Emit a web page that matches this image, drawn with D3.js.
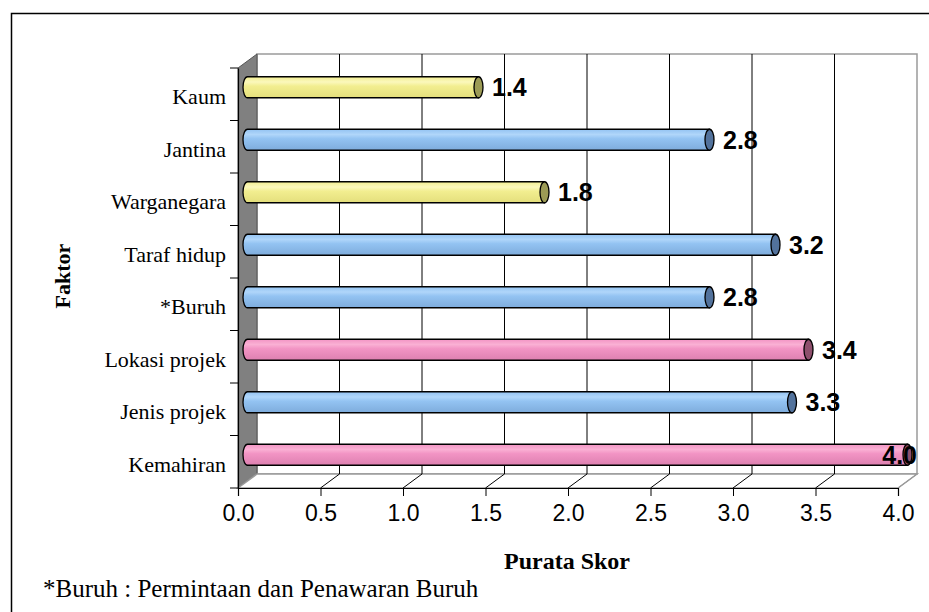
<!DOCTYPE html>
<html><head><meta charset="utf-8">
<script src="https://cdn.jsdelivr.net/npm/d3@7"></script>
<style>body{margin:0;background:#fff}svg{display:block}</style>
</head><body>
<svg id="c" width="929" height="612"></svg>
<script>
// Data (bottom to top, as in the chart's category order)
const categories = ["Kemahiran","Jenis projek","Lokasi projek","*Buruh","Taraf hidup","Warganegara","Jantina","Kaum"];
const scores = [4.0, 3.3, 3.4, 2.8, 3.2, 1.8, 2.8, 1.4];
const colourGroup = [2, 1, 2, 1, 1, 0, 1, 0];
const xTicks = [0, 0.5, 1, 1.5, 2, 2.5, 3, 3.5, 4];
const xTitle = "Purata Skor";
const yTitle = "Faktor";
const footnote = "*Buruh : Permintaan dan Penawaran Buruh";

const svg = d3.select("#c");
const L = 238, R = 898, T = 68, B = 488;
const DX = 19, DY = -14;
const serif = "'Times New Roman', 'Liberation Serif', serif";
const sans = "Arial, 'Liberation Sans', sans-serif";

const x = d3.scaleLinear().domain([0, 4]).range([L, R]);
const y = d3.scaleBand().domain(categories.slice().reverse()).range([T, B]);

const palette = [
  {top:"#fbf8bc", mid:"#f2ee90", bot:"#e4df7c", cap:"#9c9b55"},
  {top:"#b0d6fa", mid:"#93c3f2", bot:"#7eacdc", cap:"#52729c"},
  {top:"#fab0d4", mid:"#f294c4", bot:"#dd80b0", cap:"#8e4f6c"}
];
const defs = svg.append("defs");
palette.forEach((p, i) => {
  const g = defs.append("linearGradient").attr("id", "g" + i)
    .attr("x1", 0).attr("y1", 0).attr("x2", 0).attr("y2", 1);
  g.append("stop").attr("offset", "0%").attr("stop-color", p.mid);
  g.append("stop").attr("offset", "25%").attr("stop-color", p.top);
  g.append("stop").attr("offset", "45%").attr("stop-color", p.mid);
  g.append("stop").attr("offset", "100%").attr("stop-color", p.bot);
});

// outer frame
svg.append("path").attr("d", "M11.5,612 V13.5 H929")
  .attr("fill", "none").attr("stroke", "#000").attr("stroke-width", 1.5);

// back wall
svg.append("rect").attr("x", L + DX).attr("y", T + DY).attr("width", R - L).attr("height", B - T)
  .attr("fill", "#fff").attr("stroke", "#9a9a9a").attr("stroke-width", 1.5);
// side wall
svg.append("path")
  .attr("d", `M${L},${T} L${L + DX},${T + DY} L${L + DX},${B + DY} L${L},${B} Z`)
  .attr("fill", "#808080").attr("stroke", "#555").attr("stroke-width", 1);
// floor
svg.append("path")
  .attr("d", `M${L},${B} L${L + DX},${B + DY} L${R + DX},${B + DY} L${R},${B} Z`)
  .attr("fill", "#fff").attr("stroke", "#9a9a9a").attr("stroke-width", 1.5);

// gridlines on back wall and floor
const inner = xTicks.filter(t => t > 0 && t < 4);
svg.append("g").selectAll("line").data(inner).join("line")
  .attr("x1", d => x(d) + DX).attr("x2", d => x(d) + DX)
  .attr("y1", T + DY).attr("y2", B + DY)
  .attr("stroke", "#000").attr("stroke-width", 1);
svg.append("g").selectAll("line").data(xTicks.filter(t => t > 0)).join("line")
  .attr("x1", d => x(d)).attr("x2", d => x(d) + DX)
  .attr("y1", B).attr("y2", B + DY)
  .attr("stroke", d => d === 4 ? "#9a9a9a" : "#000").attr("stroke-width", 1);

// axes
const xAxis = d3.axisBottom(x).tickValues(xTicks).tickFormat(d3.format(".1f")).tickSize(8).tickPadding(9);
const gx = svg.append("g").attr("transform", `translate(0,${B})`).call(xAxis);
gx.select(".domain").attr("stroke", "#000").attr("stroke-width", 1.2);
gx.selectAll(".tick line").attr("stroke", "#000");
gx.selectAll("text").attr("font-family", sans).attr("font-size", 23).attr("fill", "#000");

const yAxis = d3.axisLeft(y).tickSize(0).tickPadding(12);
const gy = svg.append("g").attr("transform", `translate(${L},0)`).call(yAxis);
gy.select(".domain").attr("stroke", "#000").attr("stroke-width", 1.2);
gy.selectAll("text").attr("font-family", serif)
  .attr("font-size", 22).attr("fill", "#000").attr("dy", "0.45em");
// boundary ticks between categories
const bounds = d3.range(categories.length + 1).map(i => T + i * y.step());
svg.append("g").selectAll("line").data(bounds).join("line")
  .attr("x1", L - 8).attr("x2", L).attr("y1", d => d).attr("y2", d => d)
  .attr("stroke", "#000").attr("stroke-width", 1);

// cylinder bars
const bh = 21, rx = 4.5;
const bars = svg.append("g").selectAll("g").data(categories).join("g");
bars.each(function(c, i) {
  const g = d3.select(this);
  const cy = y(c) + y.bandwidth() / 2 + DY / 2;
  const x0 = x(0) + DX / 2, x1 = x(scores[i]) + DX / 2;
  const top = cy - bh / 2, bot = cy + bh / 2;
  g.append("path")
    .attr("d", `M${x1},${top} L${x0},${top} A${rx},${bh / 2} 0 0 0 ${x0},${bot} L${x1},${bot} Z`)
    .attr("fill", `url(#g${colourGroup[i]})`).attr("stroke", "#000").attr("stroke-width", 1.3);
  g.append("ellipse").attr("cx", x1).attr("cy", cy).attr("rx", rx).attr("ry", bh / 2)
    .attr("fill", palette[colourGroup[i]].cap).attr("stroke", "#000").attr("stroke-width", 1.3);
  const label = d3.format(".1f")(scores[i]);
  const t = g.append("text").attr("x", x1 + rx + 9).attr("y", cy).attr("dy", "0.36em")
    .attr("font-family", sans).attr("font-weight", "bold")
    .attr("font-size", 25).attr("fill", "#000").text(label);
  const w = t.node().getComputedTextLength();
  if (x1 + rx + 9 + w > 917) t.attr("x", 917 - w);
});

// titles
svg.append("text").attr("transform", "translate(70,276) rotate(-90)")
  .attr("text-anchor", "middle").attr("font-family", serif)
  .attr("font-weight", "bold").attr("font-size", 22).text(yTitle);
svg.append("text").attr("x", 567).attr("y", 569).attr("text-anchor", "middle")
  .attr("font-family", serif).attr("font-weight", "bold").attr("font-size", 24).text(xTitle);
svg.append("text").attr("x", 43).attr("y", 597)
  .attr("font-family", serif).attr("font-size", 25).text(footnote);
</script>
</body></html>
